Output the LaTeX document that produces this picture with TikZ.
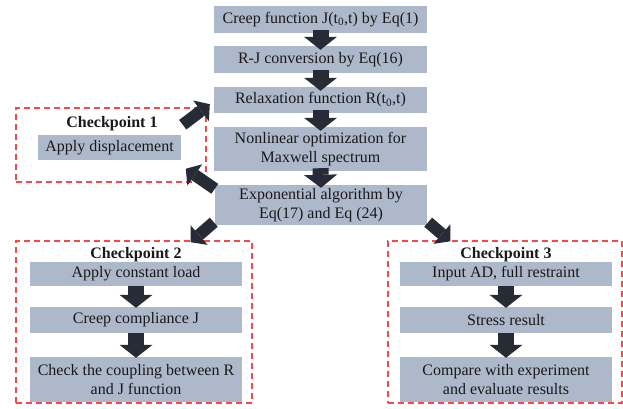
\documentclass[tikz,border=0pt]{standalone}
\usepackage{fontspec}
\setmainfont{Liberation Serif}
\usetikzlibrary{arrows.meta}
\definecolor{boxfill}{RGB}{173,185,202}
\definecolor{arrowdark}{RGB}{38,43,53}
\definecolor{cpred}{RGB}{250,72,72}
\tikzset{
  stepbox/.style={fill=boxfill, text=black!90, inner sep=0pt, align=center,
    font=\fontsize{16}{19}\selectfont},
  cpframe/.style={draw=cpred, dash pattern=on 6pt off 4pt, line width=1.5pt, inner sep=0pt},
  cptitle/.style={text=black!90, inner sep=0pt, font=\fontsize{16}{19}\selectfont\bfseries},
  blockarrow/.style={draw=arrowdark, line width=16pt,
    -{Triangle[length=13pt,width=33pt,line width=0pt]}},
  diagarrow/.style={draw=arrowdark, line width=12pt,
    -{Triangle[length=11pt,width=26pt,line width=0pt]}},
}
\begin{document}
\begin{tikzpicture}[x=1pt,y=-1pt]
\useasboundingbox (0,0) rectangle (623,409);

% checkpoint frames
\node[cpframe, minimum width=190pt, minimum height=74pt] (cp1) at (111,145) {};
\node[cpframe, minimum width=236pt, minimum height=162pt] (cp2) at (134,322) {};
\node[cpframe, minimum width=234pt, minimum height=162pt] (cp3) at (505,322) {};

% main chain
\node[stepbox, minimum width=213pt, minimum height=27pt] (creep) at (320.5,19.5)
  {Creep function J(t\textsubscript{0},t) by Eq(1)};
\node[stepbox, minimum width=213pt, minimum height=27pt] (rjconv) at (320.5,59.5)
  {R-J conversion by Eq(16)};
\node[stepbox, minimum width=213pt, minimum height=26pt] (relax) at (320.5,100)
  {Relaxation function R(t\textsubscript{0},t)};
\node[stepbox, minimum width=213pt, minimum height=44pt] (nonlin) at (320.5,149)
  {Nonlinear optimization for\\Maxwell spectrum};
\node[stepbox, minimum width=212pt, minimum height=40pt] (expo) at (321,205)
  {Exponential algorithm by\\Eq(17) and Eq (24)};

% checkpoint 1
\node[cptitle] (cp1title) at (112,124) {Checkpoint 1};
\node[stepbox, minimum width=143pt, minimum height=25pt] (disp) at (109.5,147.5)
  {Apply displacement};

% checkpoint 2
\node[cptitle] (cp2title) at (136,255) {Checkpoint 2};
\node[stepbox, minimum width=212pt, minimum height=24pt] (load) at (136,274)
  {Apply constant load};
\node[stepbox, minimum width=212pt, minimum height=26pt] (compl) at (136,320)
  {Creep compliance J};
\node[stepbox, minimum width=212pt, minimum height=45pt] (coupling) at (136,379.5)
  {Check the coupling between R\\and J function};

% checkpoint 3
\node[cptitle] (cp3title) at (506,255) {Checkpoint 3};
\node[stepbox, minimum width=212pt, minimum height=24pt] (input) at (506,274)
  {Input AD, full restraint};
\node[stepbox, minimum width=212pt, minimum height=26pt] (stress) at (506,320)
  {Stress result};
\node[stepbox, minimum width=212pt, minimum height=45pt] (compare) at (506,379.5)
  {Compare with experiment\\and evaluate results};

% arrows
\draw[blockarrow] ([yshift=3pt]creep.south) -- ([yshift=-4pt]rjconv.north);
\draw[blockarrow] ([yshift=3pt]rjconv.south) -- ([yshift=-4pt]relax.north);
\draw[blockarrow] ([yshift=3pt]relax.south) -- ([yshift=-4pt]nonlin.north);
\draw[blockarrow] ([yshift=3pt]nonlin.south) -- ([yshift=-3pt]expo.north);
\draw[blockarrow] (load.south) -- ([yshift=-1pt]compl.north);
\draw[blockarrow] (compl.south) -- ([yshift=-1pt]coupling.north);
\draw[blockarrow] (input.south) -- ([yshift=-1pt]stress.north);
\draw[blockarrow] (stress.south) -- ([yshift=-1pt]compare.north);

\draw[diagarrow] ([shift={(-24,-58)}]cp1.south east) -- ([shift={(-4,-9)}]relax.south west);
\draw[diagarrow] ([shift={(0,4)}]expo.north west) -- ([shift={(-21,-14)}]cp1.south east);
\draw[diagarrow] ([shift={(-1,-3)}]expo.south west) -- ([shift={(-62,2)}]cp2.north east);
\draw[diagarrow] ([shift={(1,-3)}]expo.south east) -- ([shift={(63,1)}]cp3.north west);
\end{tikzpicture}
\end{document}
